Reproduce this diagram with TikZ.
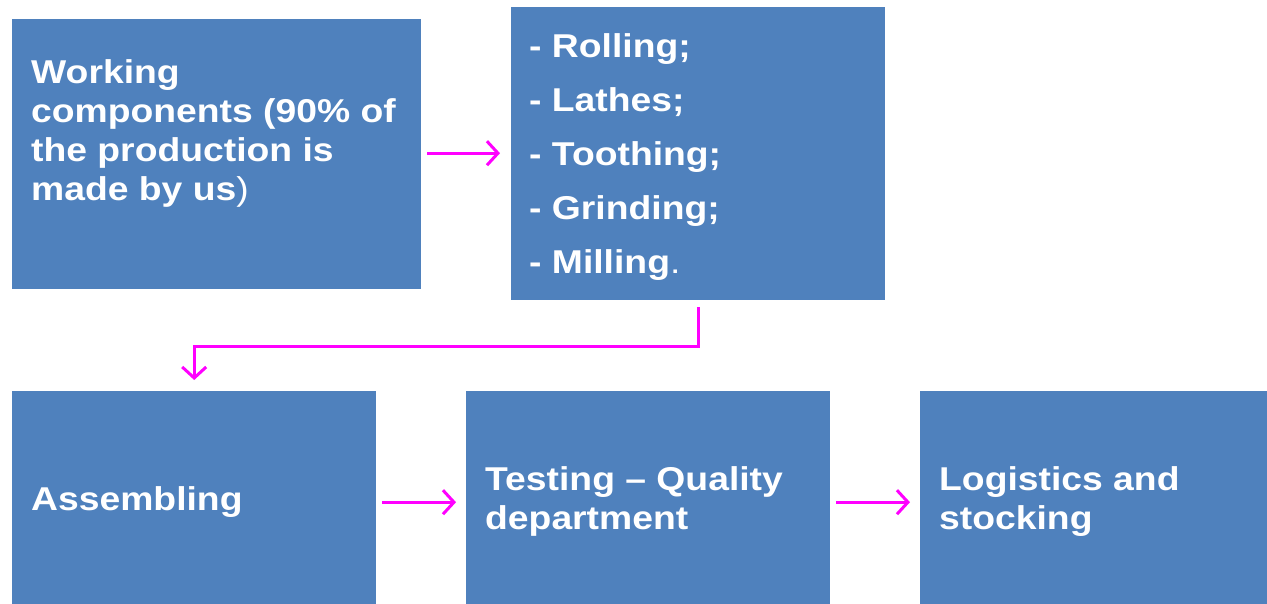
\documentclass[tikz,border=0pt]{standalone}
\usepackage{fontspec}
\setmainfont{Liberation Sans}[FakeStretch=1.13]
\usepackage{xcolor}
\usetikzlibrary{arrows.meta,calc,positioning}
\definecolor{boxblue}{HTML}{4F81BD}
\definecolor{flowpink}{HTML}{FF00FF}
\tikzset{stepbox/.style={fill=boxblue,draw=none,anchor=north west,inner sep=0},
	boxtext/.style={text=white,font=\bfseries\fontsize{33}{39}\selectfont,align=left,anchor=north west,inner sep=0},
	flow/.style={draw=flowpink,line width=3pt,-{Straight Barb[length=11pt,width=24pt,line width=3pt]}}}

\begin{document}
\begin{tikzpicture}[x=1pt,y=1pt]
	\useasboundingbox (0,0) rectangle (1267,-603);
	
	\node[stepbox,minimum width=409,minimum height=270] (work) at (12,-19) {};
	\node[stepbox,minimum width=374,minimum height=293] (ops) at (511,-7) {};
	\node[stepbox,minimum width=364,minimum height=220] (assem) at (12,-391) {};
	\node[stepbox,minimum width=364,minimum height=220] (test) at (466,-391) {};
	\node[stepbox,minimum width=364,minimum height=220] (logi) at (920,-391) {};
	
	\node[boxtext] (worktxt) at (31,-59) {Working\\components (90\% of\\the production is\\made by us\textmd{)}};
	\node[boxtext,font=\bfseries\fontsize{33}{54}\selectfont] (opstxt) at (529,-33) {- Rolling;\\- Lathes;\\- Toothing;\\- Grinding;\\- Milling\textmd{.}};
	\node[boxtext] (assemtxt) at (31,-486) {Assembling};
	\node[boxtext] (testtxt) at (485,-466) {Testing -- Quality\\department};
	\node[boxtext] (logitxt) at (939,-466) {Logistics and\\stocking};
	
	\draw[flow] ([xshift=6,yshift=1]work.east) -- ([xshift=-11,yshift=1]ops.west |- work.east);
	\draw[flow] ([yshift=-7]ops.south) -- ++(0,-39) -| ([yshift=11]assem.north);
	\draw[flow] ([xshift=6,yshift=-1]assem.east) -- ([xshift=-10,yshift=-1]test.west);
	\draw[flow] ([xshift=6,yshift=-1]test.east) -- ([xshift=-10,yshift=-1]logi.west);
\end{tikzpicture}
\end{document}
